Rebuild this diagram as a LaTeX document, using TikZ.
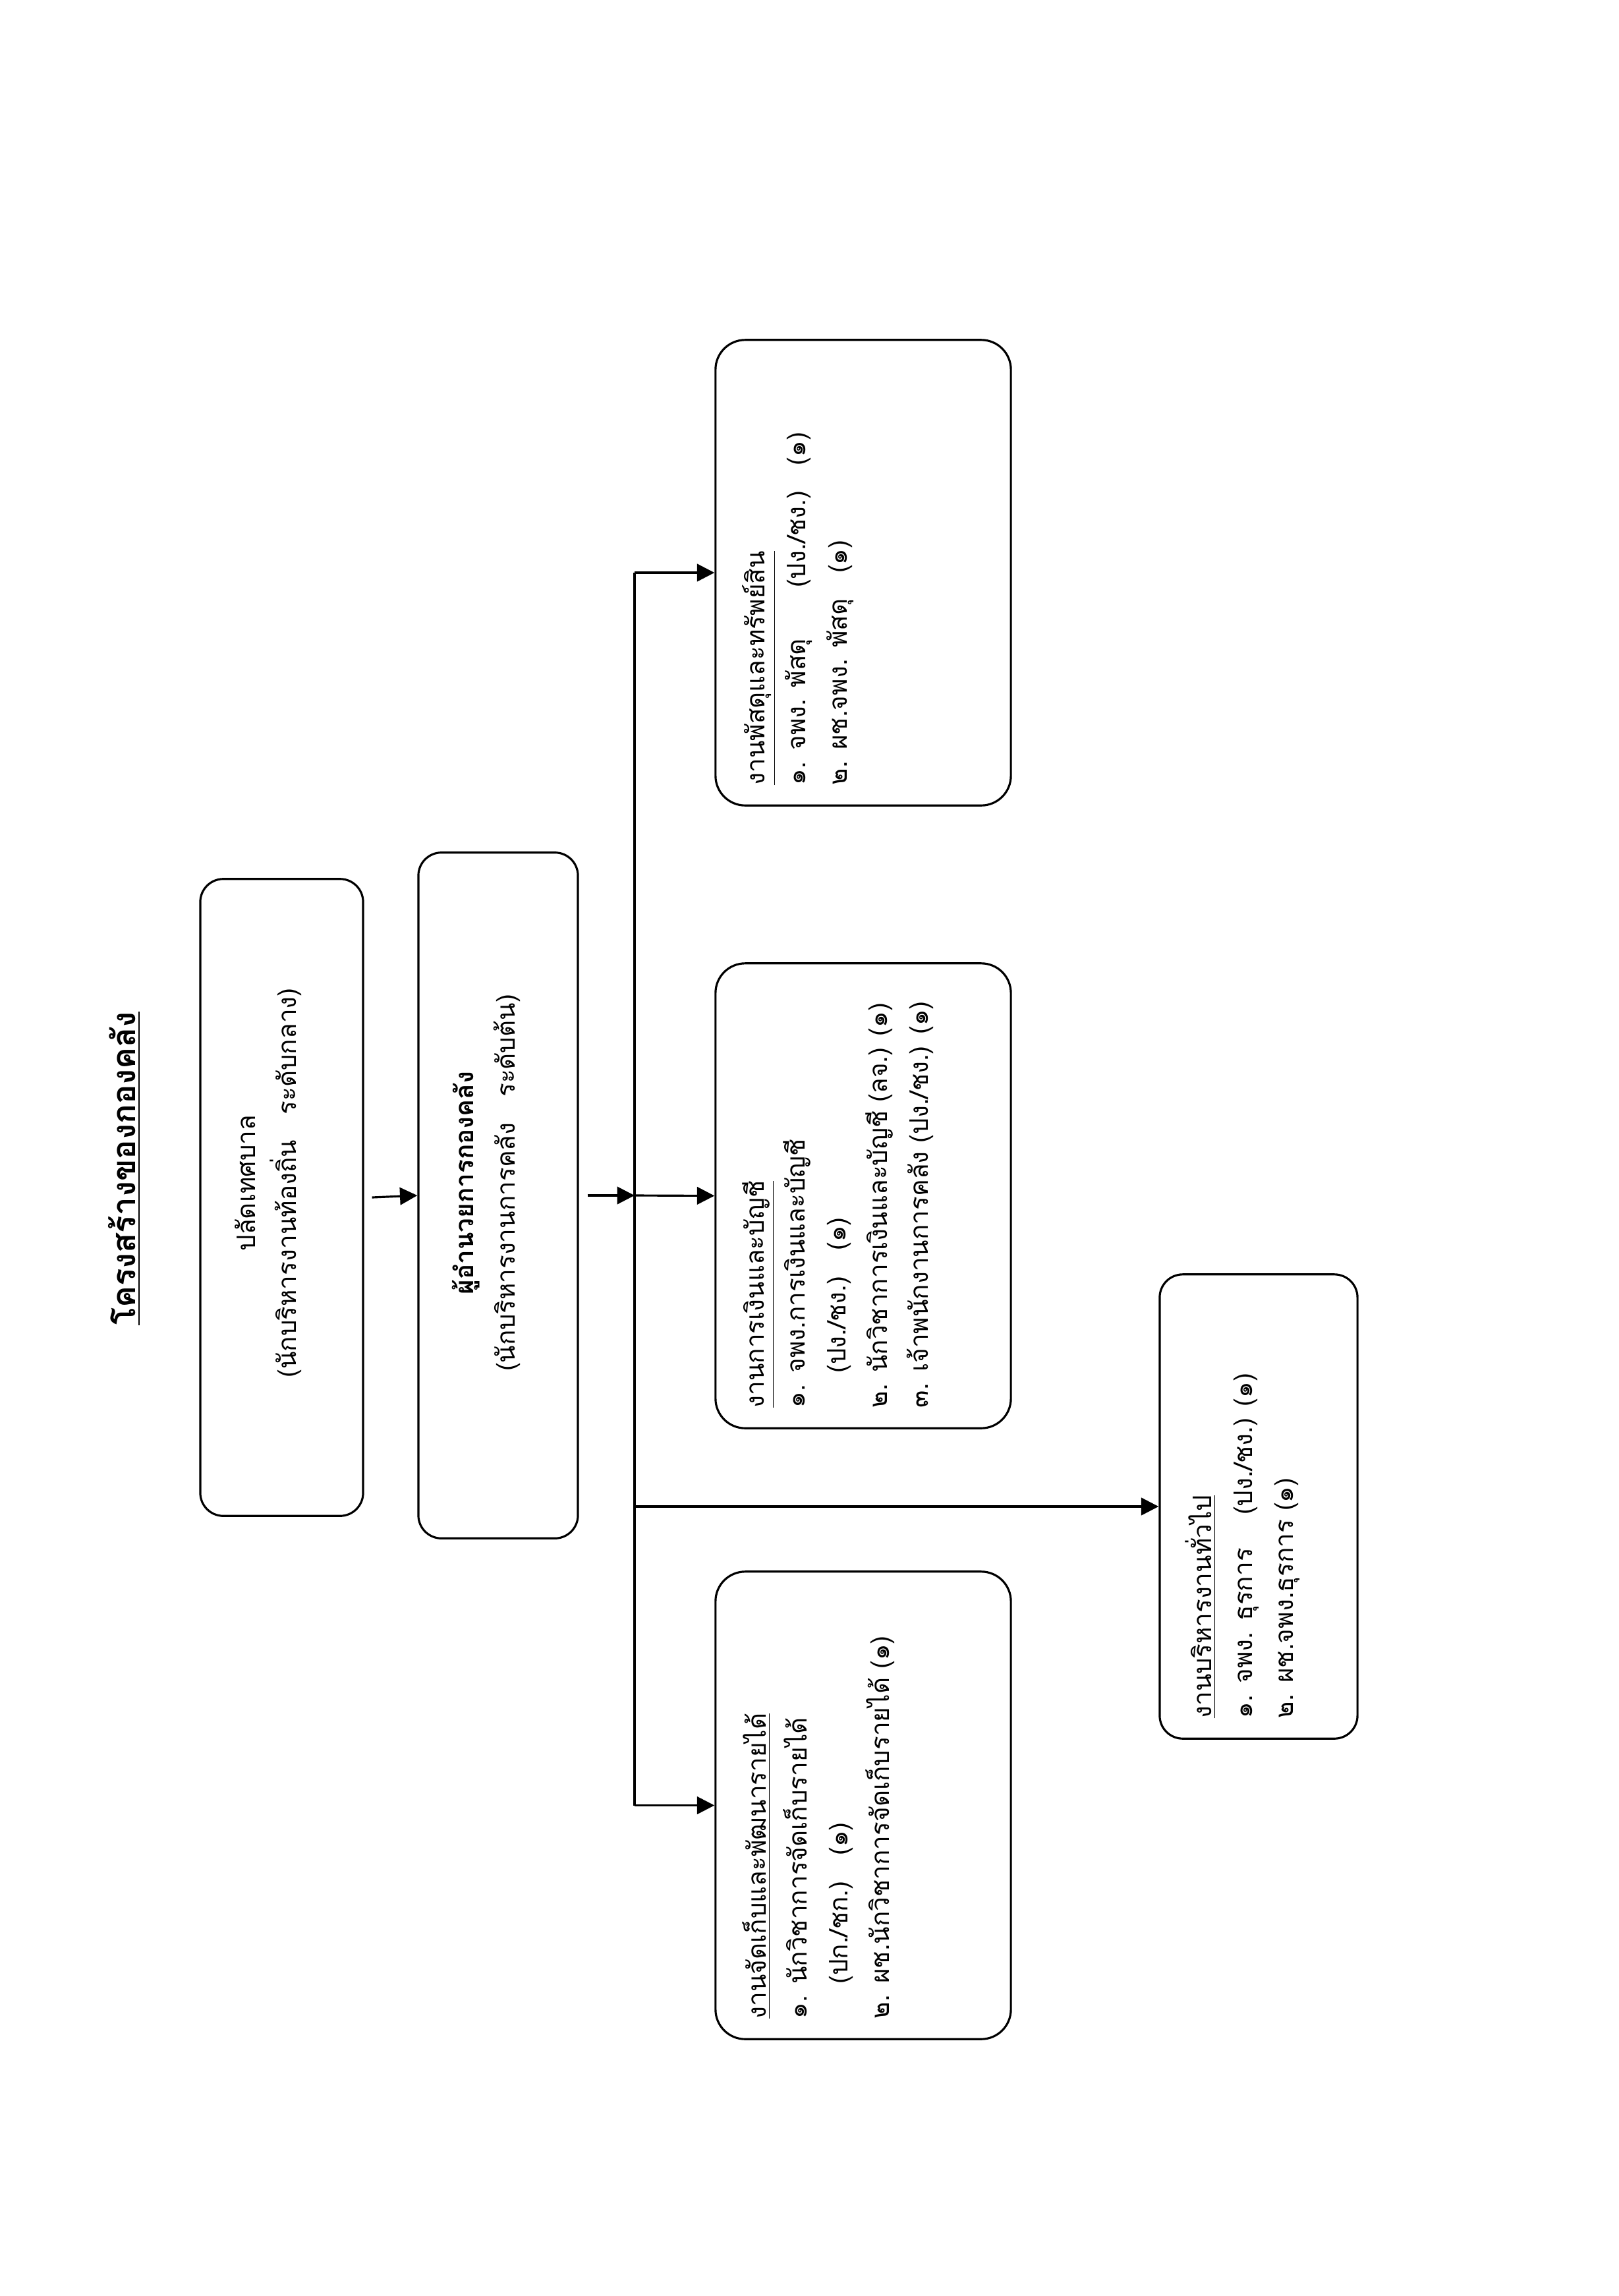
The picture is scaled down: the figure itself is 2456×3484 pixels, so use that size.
\documentclass[tikz,border=0pt]{standalone}
\usepackage{fontspec}
\setmainfont{Loma}[Script=Thai]
\usetikzlibrary{arrows.meta}
\begin{document}
\begin{tikzpicture}[x=0.01cm,y=-0.01cm,
  box/.style={draw, line width=0.9pt, rounded corners=0.35cm, inner sep=0pt},
  arr/.style={line width=0.9pt, -{Triangle[length=7.5pt,width=7.5pt]}},
  trunk/.style={line width=0.9pt},
  lbl/.style={rotate=90, inner sep=0pt, font=\fontsize{11}{17.7}\selectfont, align=left, anchor=north west},
  ctr/.style={rotate=90, inner sep=0pt, font=\fontsize{11}{17.7}\selectfont, align=center}
]
\useasboundingbox[fill=white] (0,0) rectangle (2456,3484);

% title
\node[rotate=90, inner sep=0pt, font=\fontsize{14}{16}\selectfont\bfseries] (title) at (189,1773) {\underline{โครงสร้างของกองคลัง}};

% boxes
\node[box, minimum width=2.47cm, minimum height=9.66cm] (b1) at (427.5,1817) {};
\node[box, minimum width=2.42cm, minimum height=10.40cm] (b2) at (756,1814) {};
\node[box, rounded corners=0.45cm, minimum width=4.48cm, minimum height=7.06cm] (bP) at (1310,869) {};
\node[box, rounded corners=0.45cm, minimum width=4.48cm, minimum height=7.05cm] (bF) at (1310,1814.5) {};
\node[box, rounded corners=0.45cm, minimum width=4.48cm, minimum height=7.09cm] (bR) at (1310,2739.5) {};
\node[box, minimum width=3.0cm, minimum height=7.04cm] (bG) at (1910,2286) {};

% texts
\node[ctr] (t1) at (407,1795) {ปลัดเทศบาล\\(นักบริหารงานท้องถิ่น\hspace{1em}ระดับกลาง)};
\node[ctr] (t2) at (738,1795) {{\bfseries ผู้อำนวยการกองคลัง}\\(นักบริหารงานการคลัง\hspace{1em}ระดับต้น)};

\node[lbl] (tP) at (1126,1192) {\underline{งานพัสดุและทรัพย์สิน}\\
๑. จพง. พัสดุ\hspace{2em}(ปง./ชง.)\hspace{1em}(๑)\\
๒. ผช.จพง. พัสดุ\hspace{1em}(๑)};

\node[lbl] (tF) at (1126,2137) {\underline{งานการเงินและบัญชี}\\
๑. จพง.การเงินและบัญชี\\
\phantom{๑. }(ปง./ชง.)\hspace{1em}(๑)\\
๒. นักวิชาการเงินและบัญชี (ลจ.) (๑)\\
๓. เจ้าพนักงานการคลัง (ปง./ชง.) (๑)};

\node[lbl] (tR) at (1126,3064) {\underline{งานจัดเก็บและพัฒนารายได้}\\
๑. นักวิชาการจัดเก็บรายได้\\
\phantom{๑. }(ปก./ชก.)\hspace{1em}(๑)\\
๒. ผช.นักวิชาการจัดเก็บรายได้ (๑)};

\node[lbl] (tG) at (1798,2608) {\underline{งานบริหารงานทั่วไป}\\
๑. จพง. ธุรการ\hspace{1.3em}(ปง./ชง.) (๑)\\
๒. ผช.จพง.ธุรการ (๑)};

% connectors
\coordinate (jt) at (963,1814);
\draw[arr] ([xshift=0.12cm]b1.east) -- (b2.west);
\draw[arr] ([xshift=0.13cm]b2.east) -- (jt);
\draw[trunk] (jt |- bP.west) -- (jt |- bR.west);
\draw[arr] (jt |- bP.west) -- (bP.west);
\draw[arr] (jt) -- (bF.west);
\draw[arr] (jt |- bR.west) -- (bR.west);
\draw[arr] (jt |- bG.west) -- (bG.west);
\end{tikzpicture}
\end{document}
